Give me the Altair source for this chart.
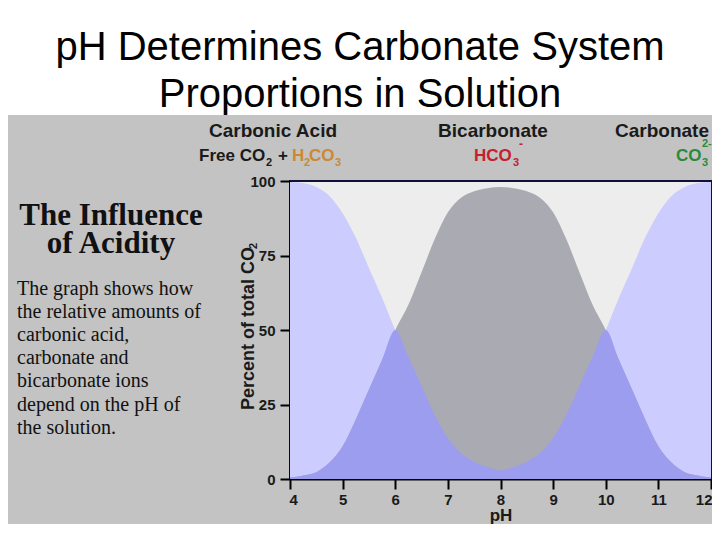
import altair as alt
import pandas as pd

# ---- data ----
ph = [4.0, 4.25, 4.5, 4.75, 5.0, 5.25, 5.5, 5.75, 6.0, 6.25, 6.5, 6.75, 7.0, 7.25, 7.5, 7.75,
      8.0, 8.25, 8.5, 8.75, 9.0, 9.25, 9.5, 9.75, 10.0, 10.25, 10.5, 10.75, 11.0, 11.25, 11.5, 11.75, 12.0]
carbonic_acid = [99.7, 99.3, 98.0, 95.0, 89.2, 81.0, 70.8, 60.8, 50.0, 41.0, 31.2, 21.5, 13.8, 8.7, 5.8, 4.0,
                 2.8, 2.0, 1.4, 1.0, 0.7, 0.5, 0.3, 0.2, 0.1, 0.0, 0.0, 0.0, 0.0, 0.0, 0.0, 0.0, 0.0]
bicarbonate = [0.5, 1.2, 2.3, 5.5, 11.0, 20.0, 30.0, 40.0, 50.0, 58.5, 69.4, 80.5, 89.5, 94.4, 96.6, 97.6,
               98.0, 97.6, 96.6, 94.4, 89.5, 80.5, 69.4, 58.5, 50.0, 40.0, 30.0, 20.0, 11.0, 5.5, 2.3, 1.2, 0.5]
carbonate = [0.0, 0.0, 0.0, 0.0, 0.0, 0.0, 0.0, 0.0, 0.1, 0.2, 0.3, 0.5, 0.7, 1.0, 1.4, 2.0,
             2.8, 4.0, 5.8, 8.7, 13.8, 21.5, 31.2, 41.0, 50.0, 60.8, 70.8, 81.0, 89.2, 95.0, 98.0, 99.3, 99.7]
x_ticks = [4, 5, 6, 7, 8, 9, 10, 11, 12]
y_ticks = [0, 25, 50, 75, 100]

title_lines = ["pH Determines Carbonate System", "Proportions in Solution"]
side_heading = ["The Influence", "of Acidity"]
side_text = ["The graph shows how", "the relative amounts of", "carbonic acid,",
             "carbonate and", "bicarbonate ions", "depend on the pH of", "the solution."]

df = pd.DataFrame({"ph": ph, "carbonic": carbonic_acid, "bicarb": bicarbonate, "carbonate": carbonate})

SANS = "Liberation Sans"
SERIF = "Liberation Serif"

xs = alt.Scale(domain=[4, 12], nice=False, zero=False)
ys = alt.Scale(domain=[0, 100], nice=False)
x_axis = alt.Axis(values=x_ticks, title="pH", labelPadding=3, labelFlush=True, labelFlushOffset=1,
                  titleY=41, titleBaseline="alphabetic")
y_axis = alt.Axis(values=y_ticks, title="Percent of total CO", labelPadding=5, titleFontSize=18,
                  titleX=-37, titleY=147, titleAngle=270, titleBaseline="alphabetic", titleAlign="center")

base = alt.Chart(df)
X = alt.X("ph:Q", scale=xs, axis=x_axis)


def area(field, color, transform=None):
    c = base
    if transform is not None:
        c = c.transform_calculate(**transform)
    return c.mark_area(color=color, interpolate="monotone", opacity=1).encode(
        x=X, y=alt.Y(f"{field}:Q", scale=ys, axis=y_axis))


layers = [
    area("carbonic", "#ccccff"),
    area("carbonate", "#ccccff"),
    area("bicarb", "#aaaab2"),
    area("ov1", "#9d9df0", {"ov1": "min(datum.carbonic, datum.bicarb)"}),
    area("ov2", "#9d9df0", {"ov2": "min(datum.carbonate, datum.bicarb)"}),
]


def label(text, x, y, size, color="#1a1a1a", font=SANS, weight="bold", align="center", angle=0):
    return alt.Chart(alt.Data(values=[{}])).mark_text(
        text=text, font=font, fontSize=size, fontWeight=weight, color=color,
        align=align, baseline="alphabetic", angle=angle).encode(x=alt.value(x), y=alt.value(y))


# white title band
title_band = alt.Chart(alt.Data(values=[{}])).mark_rect(color="white").encode(
    x=alt.value(-290), x2=alt.value(440), y=alt.value(-190), y2=alt.value(-66))
layers.insert(0, title_band)

layers.append(label(title_lines[0], 70, -121, 40, color="black", weight="normal"))
layers.append(label(title_lines[1], 70, -74, 40, color="black", weight="normal"))

layers.append(label(side_heading[0], -179, 44, 31, color="#111111", font=SERIF))
layers.append(label(side_heading[1], -179, 72, 31, color="#111111", font=SERIF))
for i, line in enumerate(side_text):
    layers.append(label(line, -273, 114 + i * 23.1, 20, color="#111111", font=SERIF,
                        weight="normal", align="left"))

# subscript of the y-axis title
layers.append(label("2", -33, 68, 11, align="left", angle=270))

# species headings above the plot (plot origin is at page x=290, y=181)
layers.append(label("Carbonic Acid", -17, -44, 19))
layers.append(label("Bicarbonate", 203, -44, 19))
layers.append(label("Carbonate", 372, -44, 19))

ORANGE, RED, GREEN = "#cc8833", "#c42030", "#2a8a3a"
MAIN_Y, SUB_Y, SUP_Y = -20, -15, -34
# Free CO2 + H2CO3
layers.append(label("Free CO", -91, MAIN_Y, 17, align="left"))
layers.append(label("2", -24, SUB_Y, 11, align="left"))
layers.append(label("+", -7, MAIN_Y, 17))
layers.append(label("H", 2, MAIN_Y, 17, color=ORANGE, align="left"))
layers.append(label("2", 14, SUB_Y, 11, color=ORANGE, align="left"))
layers.append(label("CO", 19, MAIN_Y, 17, color=ORANGE, align="left"))
layers.append(label("3", 45, SUB_Y, 11, color=ORANGE, align="left"))
# HCO3-
layers.append(label("HCO", 184, MAIN_Y, 17, color=RED, align="left"))
layers.append(label("3", 223, SUB_Y, 11, color=RED, align="left"))
layers.append(label("-", 229, SUP_Y + 1, 12, color=RED, align="left"))
# CO3 2-
layers.append(label("CO", 386, MAIN_Y, 17, color=GREEN, align="left"))
layers.append(label("3", 412, SUB_Y, 11, color=GREEN, align="left"))
layers.append(label("2-", 412, SUP_Y, 11, color=GREEN, align="left"))

chart = alt.layer(*layers).properties(
    width=421, height=298,
    padding={"left": 282, "top": 173, "right": 1, "bottom": 45},
    autosize=alt.AutoSizeParams(type="none"),
).configure(background="#c3c3c3").configure_view(
    fill="#ededed", stroke="#10103a", strokeWidth=2
).configure_axis(
    domainColor="black", domainWidth=2, tickColor="black", tickWidth=2, tickSize=10,
    labelFont=SANS, labelFontSize=15, labelFontWeight="bold", labelColor="#1a1a1a",
    titleFont=SANS, titleFontSize=17, titleFontWeight="bold", titleColor="#1a1a1a",
    grid=False
)

chart.save("out.html", embed_options={"renderer": "svg", "actions": False})
